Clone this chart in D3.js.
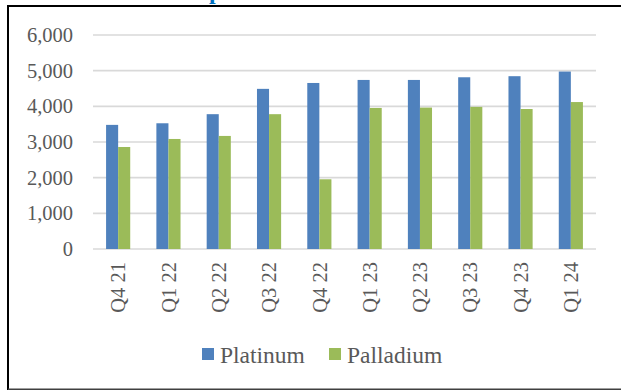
<!DOCTYPE html>
<html>
<head>
<meta charset="utf-8">
<script src="https://cdn.jsdelivr.net/npm/d3@7/dist/d3.min.js"></script>
<style>
  html, body { margin: 0; padding: 0; background: #fff; }
  svg { display: block; }
</style>
</head>
<body>
<svg id="chart" width="621" height="390"></svg>
<script>
// Quarterly demand (koz) by metal
const quarters = ["Q4 21", "Q1 22", "Q2 22", "Q3 22", "Q4 22", "Q1 23", "Q2 23", "Q3 23", "Q4 23", "Q1 24"];
const platinum = [3480, 3525, 3780, 4490, 4655, 4740, 4740, 4815, 4845, 4975];
const palladium = [2860, 3085, 3170, 3780, 1955, 3955, 3965, 3985, 3925, 4120];
const seriesNames = ["Platinum", "Palladium"];
const seriesColors = ["#4f81bd", "#9bbb59"];
const yTicks = [0, 1000, 2000, 3000, 4000, 5000, 6000];

const svg = d3.select("#chart");
const W = 621, H = 390;
const margin = { left: 93, right: 25, top: 35, bottom: 141 };
const plotW = W - margin.left - margin.right;
const plotH = H - margin.top - margin.bottom;
const textColor = "#595959";
const font = "'Liberation Serif', 'Times New Roman', serif";

// frame lines
svg.append("line").attr("x1", 8).attr("x2", W).attr("y1", 6).attr("y2", 6)
  .attr("stroke", "#000").attr("stroke-width", 2);
svg.append("line").attr("x1", 8).attr("x2", 8).attr("y1", 5).attr("y2", H)
  .attr("stroke", "#000").attr("stroke-width", 2);
svg.append("line").attr("x1", 8).attr("x2", W).attr("y1", 389.2).attr("y2", 389.2)
  .attr("stroke", "#404040").attr("stroke-width", 1.6);

// heading above the frame (only its descender reaches into view)
svg.append("text").attr("x", 209).attr("y", -1)
  .attr("font-family", font).attr("font-weight", "bold").attr("font-size", 24)
  .attr("fill", "#0070c0").text("p");

const g = svg.append("g").attr("transform", `translate(${margin.left},${margin.top})`);

const y = d3.scaleLinear().domain([0, 6000]).range([plotH, 0]);
const x0 = d3.scaleBand().domain(quarters).range([0, plotW]).padding(0);
const x1 = d3.scaleBand().domain(seriesNames)
  .range([0, x0.bandwidth() * 0.48]).padding(0);
const groupOffset = (x0.bandwidth() - x0.bandwidth() * 0.48) / 2;

// gridlines
g.append("g").selectAll("line").data(yTicks).join("line")
  .attr("x1", 0).attr("x2", plotW)
  .attr("y1", d => y(d)).attr("y2", d => y(d))
  .attr("stroke", "#d9d9d9").attr("stroke-width", 1.6);

// y axis labels
const yAxis = d3.axisLeft(y).tickValues(yTicks).tickSize(0).tickPadding(20)
  .tickFormat(d3.format(","));
g.append("g").call(yAxis)
  .call(a => a.select(".domain").remove())
  .selectAll("text")
  .attr("font-family", font).attr("font-size", 20.5).attr("fill", textColor);

// bars
const rows = quarters.map((q, i) => ({ q, vals: [platinum[i], palladium[i]] }));
const groups = g.append("g").selectAll("g").data(rows).join("g")
  .attr("transform", d => `translate(${x0(d.q) + groupOffset},0)`);
groups.selectAll("rect")
  .data(d => d.vals.map((v, k) => ({ name: seriesNames[k], v, k })))
  .join("rect")
  .attr("x", d => x1(d.name))
  .attr("width", x1.bandwidth())
  .attr("y", d => y(d.v))
  .attr("height", d => plotH - y(d.v))
  .attr("fill", d => seriesColors[d.k]);

// x axis labels (rotated)
const xAxis = d3.axisBottom(x0).tickSize(0).tickPadding(0);
const xg = g.append("g").attr("transform", `translate(0,${plotH})`).call(xAxis);
xg.select(".domain").remove();
xg.selectAll("text")
  .attr("font-family", font).attr("font-size", 20.5).attr("fill", textColor)
  .attr("text-anchor", "end")
  .attr("transform", "rotate(-90)")
  .attr("x", -13).attr("y", 0).attr("dy", "0.35em");

// legend
const legend = svg.append("g");
const legendItems = [
  { name: seriesNames[0], color: seriesColors[0], x: 202 },
  { name: seriesNames[1], color: seriesColors[1], x: 329 }
];
legendItems.forEach(it => {
  legend.append("rect").attr("x", it.x).attr("y", 348).attr("width", 12).attr("height", 12)
    .attr("fill", it.color);
  legend.append("text").attr("x", it.x + 18).attr("y", 362.5)
    .attr("font-family", font).attr("font-size", 23.5).attr("fill", textColor)
    .text(it.name);
});
</script>
</body>
</html>
